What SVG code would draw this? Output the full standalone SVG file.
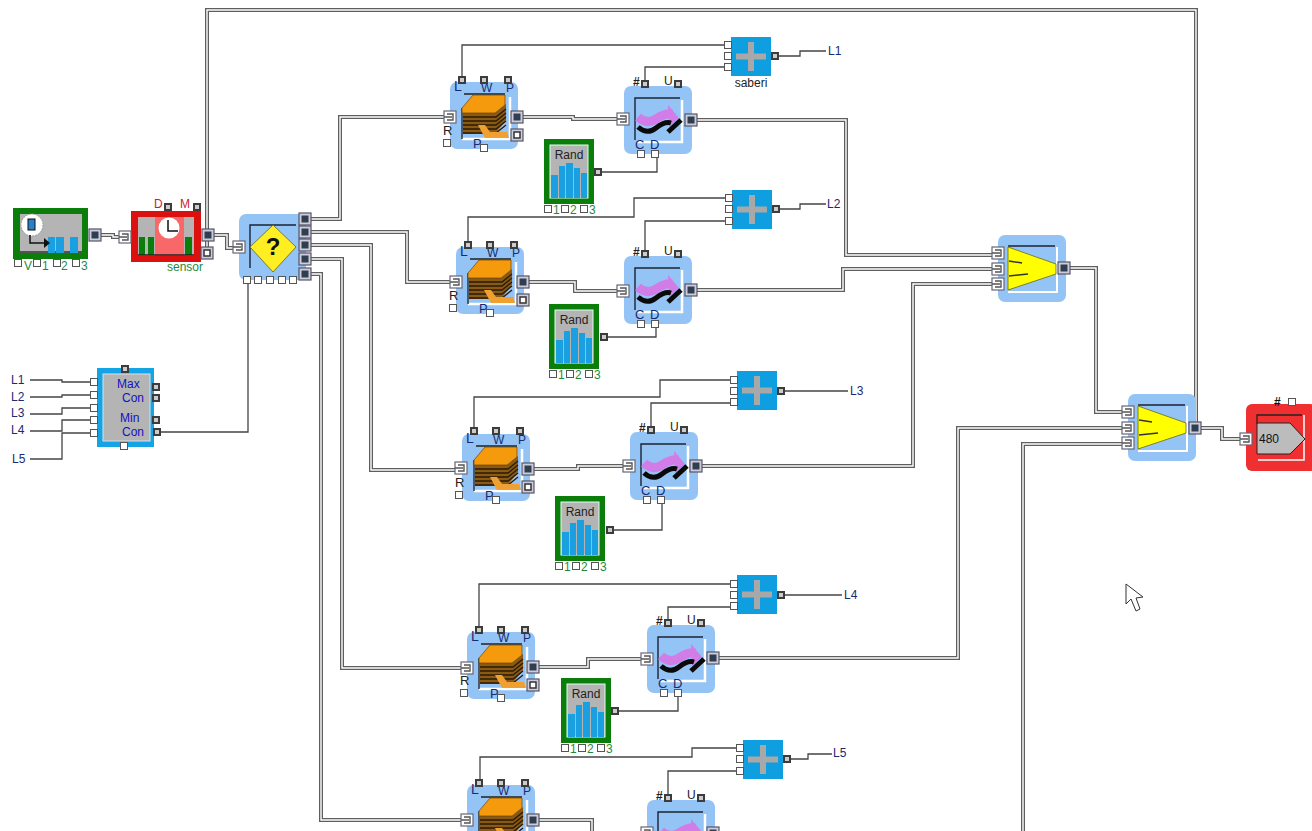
<svg xmlns="http://www.w3.org/2000/svg" width="1312" height="831" viewBox="0 0 1312 831">
<style>
text{font-family:"Liberation Sans",Arial,sans-serif;font-size:12px}
.n{fill:#1a2a70}.b{fill:#1212c0;font-size:12px}.g{fill:#1f8a3a;font-size:12px}.k{fill:#222}.r{fill:#c81e2a;font-size:12px}
.wo{fill:none;stroke:#5e5e5e;stroke-width:4}
.wi{fill:none;stroke:#fff;stroke-width:1.4}
.th{fill:none;stroke:#444;stroke-width:1.3}
</style>
<defs>
<rect id="pd" x="-3" y="-3" width="6" height="6" fill="#ccc" stroke="#3c3c3c" stroke-width="2"/>
<rect id="pw" x="-3.5" y="-3.5" width="7" height="7" fill="#fff" stroke="#555" stroke-width="1"/>
<g id="px"><rect x="-6" y="-6" width="12" height="12" fill="#fff" stroke="#667" stroke-width="1.2"/><path d="M-6 0H2M-3-3H3V3H-3" fill="none" stroke="#555" stroke-width="1.4"/></g>
<g id="py"><rect x="-6" y="-6" width="12" height="12" fill="#ccd" stroke="#556" stroke-width="1.2"/><rect x="-3.5" y="-3.5" width="7" height="7" fill="#2f3f50"/></g>
<g id="pz"><rect x="-6" y="-6" width="12" height="12" fill="#ccd" stroke="#556" stroke-width="1.2"/><rect x="-3" y="-3" width="6" height="6" fill="#fff" stroke="#333" stroke-width="1.5"/></g>
<g id="qs">
<rect width="68" height="67" rx="7" fill="#93c4f5"/>
<path d="M12 57H60V15" fill="none" stroke="#fff" stroke-width="2.5"/>
<path d="M14 12H55M12 26V57" fill="none" stroke="#222" stroke-width="1.3"/>
<path d="M13 31H45L56 22V38L45 52H13Z" fill="#8a5a12"/>
<path d="M13 35H46L56 27M13 39H46L56 31M13 43H46L56 35M13 47H46L56 39M13 51H46L56 43" fill="none" stroke="#2a1a08" stroke-width="1.3"/>
<path d="M12 26L23 13H55V23L45 31H12Z" fill="#f59a0c" stroke="#6a4308" stroke-width=".7"/>
<path d="M28 43H35L40 50H57L59 56H35Z" fill="#f0a030"/>
</g>
<g id="ws">
<rect width="68" height="68" rx="7" fill="#93c4f5"/>
<path d="M13 56H58V14" fill="none" stroke="#fff" stroke-width="2.500"/>
<path d="M56 12H11V54" fill="none" stroke="#1c2233" stroke-width="1.400"/>
<path d="M14 31Q23 39 32 33T48 28" fill="none" stroke="#d27ce8" stroke-width="9"/>
<path d="M44 19L55 32L45 41Z" fill="#d27ce8"/>
<path d="M14 41Q23 49 32 42T47 37M44 46L57 34" fill="none" stroke="#0a0a0a" stroke-width="5"/>
</g>
<g id="rs">
<rect width="50" height="65" fill="#0a7d0a"/>
<rect x="6" y="6" width="38" height="53" fill="#b4b4b4" stroke="#dfe" stroke-width="1"/>
<rect x="7" y="36" width="7" height="23" fill="#1a9fe0"/><rect x="15" y="27" width="6" height="32" fill="#1a9fe0"/><rect x="22" y="24" width="7" height="35" fill="#1a9fe0"/><rect x="30" y="29" width="6" height="30" fill="#1a9fe0"/><rect x="37" y="34" width="6" height="25" fill="#1a9fe0"/>
</g>
<g id="ps">
<rect width="40" height="39" fill="#0f9fe0"/>
<path d="M20 5V34M5 19.500H35" stroke="#a8a8a8" stroke-width="6" fill="none"/>
</g>
<g id="ms">
<rect width="68" height="67" rx="7" fill="#93c4f5"/>
<path d="M10 57H59V12" fill="none" stroke="#fff" stroke-width="2"/>
<path d="M10 11H57" stroke="#1c2233" stroke-width="1.500" fill="none"/>
<path d="M10 12L58 29V39L10 55Z" fill="#ffff00" stroke="#6a6a10" stroke-width=".8"/>
<path d="M11 26L24 28M11 41L30 39" stroke="#333" stroke-width="1.500" fill="none"/>
</g>
</defs>
<rect width="1312" height="831" fill="#fff"/>
<g id="connectors">
<g class="wo"><g id="wires">
<path d="M1196 428V10H207V253"/>
<path d="M95 235H113V237H122"/>
<path d="M207 235H227V248H238"/>
<path d="M305 219H340V117H449"/>
<path d="M305 232H407V282H456"/>
<path d="M305 245H371V470H460"/>
<path d="M305 259H342V668H467"/>
<path d="M305 274H321V820H467"/>
<path d="M517 117H573V119H624"/>
<path d="M523 282H575V291H624"/>
<path d="M528 469H578V466H630"/>
<path d="M533 667H588V659H647"/>
<path d="M533 820H592V831"/>
<path d="M691 120H846V255H998"/>
<path d="M691 290H843V269H998"/>
<path d="M696 466H913V284H998"/>
<path d="M713 658H958V428H1128"/>
<path d="M1023 831V444H1128"/>
<path d="M1064 268H1096V412H1128"/>
<path d="M1195 428H1222V439H1247"/>
</g></g>
<use href="#wires" class="wi"/>
<g class="th">
<path d="M462 80V45H729"/><path d="M645 84V67H729"/><path d="M775 56H800V51H826"/><path d="M598 172H657V155"/>
<path d="M468 245V217H634V198H728"/><path d="M645 254V221H728"/><path d="M775 209H800V204H826"/><path d="M604 337H656V325"/>
<path d="M474 431V397H660V380H733"/><path d="M651 430V403H733"/><path d="M780 391H848"/><path d="M610 530H662V500"/>
<path d="M479 630V584H733"/><path d="M668 623V607H733"/><path d="M780 595H842"/><path d="M615 711H678V693"/>
<path d="M480 783V757H692V748H740"/><path d="M668 798V771H740"/><path d="M786 759H808V754H832"/>
<path d="M30 380H62V382H94"/><path d="M30 397H62V395H94"/><path d="M30 414H62V408H94"/><path d="M30 431H62V420H94"/><path d="M30 459H62V433H94"/>
<path d="M157 432H248V281"/>
</g>
</g>
<g id="generator">
<rect x="13" y="208" width="75" height="51" fill="#0a7d0a"/>
<rect x="20" y="214" width="62" height="39" fill="#b4b4b4"/>
<path d="M20 252H82" stroke="#333" stroke-width="1.500"/>
<rect x="48" y="237" width="7" height="16" fill="#1a9fe0"/><rect x="56" y="237" width="8" height="16" fill="#1a9fe0"/><rect x="70" y="237" width="8" height="16" fill="#1a9fe0"/>
<circle cx="32" cy="225" r="11" fill="#fff" stroke="#999" stroke-dasharray="2 1"/>
<rect x="28" y="219" width="7" height="11" fill="#2a7fc8" stroke="#111"/>
<path d="M30 235V243H45" fill="none" stroke="#111" stroke-width="1.500"/><path d="M44 238L50 243L44 248Z" fill="#111"/>
<use href="#py" x="95" y="235"/>
<use href="#pw" x="18" y="263"/><use href="#pw" x="37" y="263"/><use href="#pw" x="57" y="263"/><use href="#pw" x="76" y="263"/>
<text class="g" x="24" y="270">V</text><text class="g" x="42" y="270">1</text><text class="g" x="61" y="270">2</text><text class="g" x="81" y="270">3</text>
</g>
<g id="sensor">
<rect x="131" y="211" width="70" height="51" fill="#dd1010"/>
<rect x="138" y="217" width="56" height="39" fill="#b4b4b4"/>
<rect x="155" y="217" width="29" height="39" fill="#f86868"/>
<rect x="139" y="237" width="6" height="18" fill="#0a7d0a"/><rect x="148" y="237" width="6" height="18" fill="#0a7d0a"/><rect x="185" y="237" width="7" height="18" fill="#0a7d0a"/>
<path d="M138 255H194" stroke="#222" stroke-width="1.500"/>
<circle cx="169" cy="228" r="10.500" fill="#fff"/><path d="M168 220V231H178" fill="none" stroke="#111" stroke-width="1.500"/>
<use href="#px" x="125" y="237"/><use href="#py" x="208" y="235"/><use href="#pz" x="207" y="253"/>
<use href="#pd" x="168" y="207"/><use href="#pd" x="197" y="207"/>
<text class="r" x="154" y="208">D</text><text class="r" x="180" y="208">M</text>
<text class="g" x="167" y="271">sensor</text>
</g>
<g id="decision">
<rect x="239" y="214" width="67" height="66" rx="7" fill="#93c4f5"/>
<path d="M250 268V225H296" fill="none" stroke="#1c2233" stroke-width="1.400"/>
<path d="M273 225L296 247L273 272L250 247Z" fill="#ffee22" stroke="#666620" stroke-width=".8"/>
<text x="273" y="255" text-anchor="middle" style="font-size:24px;font-weight:bold" fill="#111">?</text>
<use href="#px" x="239" y="247"/>
<use href="#py" x="305" y="219"/><use href="#py" x="305" y="232"/><use href="#py" x="305" y="245"/><use href="#py" x="305" y="259"/><use href="#py" x="305" y="274"/>
<use href="#pw" x="247" y="280"/><use href="#pw" x="258" y="280"/><use href="#pw" x="270" y="280"/><use href="#pw" x="282" y="280"/><use href="#pw" x="293" y="280"/>
</g>
<g id="maxmin">
<rect x="97" y="368" width="57" height="79" fill="#12a4e4"/>
<rect x="103" y="374" width="47" height="67" fill="#b4b4b4" stroke="#dde" stroke-width="1"/>
<text class="b" x="117" y="388">Max</text><text class="b" x="122" y="402">Con</text><text class="b" x="120" y="422">Min</text><text class="b" x="122" y="436">Con</text>
<use href="#pw" x="94" y="382"/><use href="#pw" x="94" y="395"/><use href="#pw" x="94" y="408"/><use href="#pw" x="94" y="420"/><use href="#pw" x="94" y="433"/>
<use href="#pd" x="156" y="387"/><use href="#pd" x="156" y="398"/><use href="#pd" x="156" y="420"/><use href="#pd" x="157" y="432"/>
<use href="#pd" x="125" y="369"/><use href="#pw" x="124" y="446"/>
</g>
<g id="inputs">
<text class="n" x="11" y="384">L1</text><text class="n" x="11" y="401">L2</text><text class="n" x="11" y="417">L3</text><text class="n" x="11" y="434">L4</text><text class="n" x="12" y="463">L5</text>
</g>
<g id="queue1" transform="translate(450 82)"><use href="#qs"/><text class="n" x="4" y="9" style="font-size:14px">L</text><text class="n" x="31" y="10">W</text><text class="n" x="56" y="10">P</text><text class="k" x="-7" y="53" style="font-size:13px">R</text><text class="n" x="23" y="66" style="font-size:13px">P</text><use href="#pd" x="12" y="-2"/><use href="#pd" x="34" y="-2"/><use href="#pd" x="58" y="-2"/><use href="#px" x="0" y="35"/><use href="#py" x="67" y="35"/><use href="#pz" x="67" y="53"/><use href="#pw" x="-3" y="61"/><use href="#pw" x="34" y="66"/></g>
<g id="queue2" transform="translate(456 247)"><use href="#qs"/><text class="n" x="4" y="9" style="font-size:14px">L</text><text class="n" x="31" y="10">W</text><text class="n" x="56" y="10">P</text><text class="k" x="-7" y="53" style="font-size:13px">R</text><text class="n" x="23" y="66" style="font-size:13px">P</text><use href="#pd" x="12" y="-2"/><use href="#pd" x="34" y="-2"/><use href="#pd" x="58" y="-2"/><use href="#px" x="0" y="35"/><use href="#py" x="67" y="35"/><use href="#pz" x="67" y="53"/><use href="#pw" x="-3" y="61"/><use href="#pw" x="34" y="66"/></g>
<g id="queue3" transform="translate(462 434)"><use href="#qs"/><text class="n" x="4" y="9" style="font-size:14px">L</text><text class="n" x="31" y="10">W</text><text class="n" x="56" y="10">P</text><text class="k" x="-7" y="53" style="font-size:13px">R</text><text class="n" x="23" y="66" style="font-size:13px">P</text><use href="#pd" x="12" y="-3"/><use href="#pd" x="34" y="-3"/><use href="#pd" x="58" y="-3"/><use href="#px" x="-1" y="34"/><use href="#py" x="66" y="35"/><use href="#pz" x="66" y="53"/><use href="#pw" x="-3" y="61"/><use href="#pw" x="34" y="66"/></g>
<g id="queue4" transform="translate(467 632)"><use href="#qs"/><text class="n" x="4" y="9" style="font-size:14px">L</text><text class="n" x="31" y="10">W</text><text class="n" x="56" y="10">P</text><text class="k" x="-7" y="53" style="font-size:13px">R</text><text class="n" x="23" y="66" style="font-size:13px">P</text><use href="#pd" x="12" y="-2"/><use href="#pd" x="34" y="-2"/><use href="#pd" x="58" y="-2"/><use href="#px" x="0" y="36"/><use href="#py" x="66" y="35"/><use href="#pz" x="66" y="53"/><use href="#pw" x="-3" y="61"/><use href="#pw" x="34" y="66"/></g>
<g id="queue5" transform="translate(467 785)"><use href="#qs"/><text class="n" x="4" y="9" style="font-size:14px">L</text><text class="n" x="31" y="10">W</text><text class="n" x="56" y="10">P</text><use href="#pd" x="12" y="-2"/><use href="#pd" x="34" y="-2"/><use href="#pd" x="58" y="-2"/><use href="#px" x="0" y="35"/><use href="#py" x="66" y="35"/></g>
<g id="wave1" transform="translate(624 86)"><use href="#ws"/><text class="k" x="9" y="0" style="font-weight:bold">#</text><text class="k" x="40" y="-1">U</text><text class="n" x="11" y="63" style="font-size:13px">C</text><text class="n" x="26" y="63" style="font-size:13px">D</text><use href="#pd" x="21" y="-2"/><use href="#pd" x="54" y="-2"/><use href="#px" x="-1" y="33"/><use href="#py" x="67" y="34"/><use href="#pw" x="17" y="68"/><use href="#pw" x="31" y="68"/></g>
<g id="wave2" transform="translate(624 256)"><use href="#ws"/><text class="k" x="9" y="0" style="font-weight:bold">#</text><text class="k" x="40" y="-1">U</text><text class="n" x="11" y="63" style="font-size:13px">C</text><text class="n" x="26" y="63" style="font-size:13px">D</text><use href="#pd" x="21" y="-2"/><use href="#pd" x="54" y="-2"/><use href="#px" x="-1" y="35"/><use href="#py" x="67" y="34"/><use href="#pw" x="17" y="68"/><use href="#pw" x="31" y="68"/></g>
<g id="wave3" transform="translate(630 432)"><use href="#ws"/><text class="k" x="9" y="0" style="font-weight:bold">#</text><text class="k" x="40" y="-1">U</text><text class="n" x="11" y="63" style="font-size:13px">C</text><text class="n" x="26" y="63" style="font-size:13px">D</text><use href="#pd" x="21" y="-2"/><use href="#pd" x="54" y="-2"/><use href="#px" x="-1" y="34"/><use href="#py" x="66" y="34"/><use href="#pw" x="17" y="68"/><use href="#pw" x="31" y="68"/></g>
<g id="wave4" transform="translate(647 625)"><use href="#ws"/><text class="k" x="9" y="0" style="font-weight:bold">#</text><text class="k" x="40" y="-1">U</text><text class="n" x="11" y="63" style="font-size:13px">C</text><text class="n" x="26" y="63" style="font-size:13px">D</text><use href="#pd" x="21" y="-2"/><use href="#pd" x="54" y="-2"/><use href="#px" x="0" y="34"/><use href="#py" x="66" y="33"/><use href="#pw" x="17" y="68"/><use href="#pw" x="31" y="68"/></g>
<g id="wave5" transform="translate(647 800)"><use href="#ws"/><text class="k" x="9" y="0" style="font-weight:bold">#</text><text class="k" x="40" y="-1">U</text><use href="#pd" x="21" y="-2"/><use href="#pd" x="54" y="-2"/><use href="#px" x="0" y="33"/><use href="#py" x="66" y="33"/></g>
<g id="rand1" transform="translate(544 139)"><use href="#rs"/><text x="25" y="20" text-anchor="middle" fill="#222">Rand</text><use href="#pd" x="54" y="33"/><use href="#pw" x="4" y="70"/><use href="#pw" x="21" y="70"/><use href="#pw" x="40" y="70"/><text class="g" x="9" y="75">1</text><text class="g" x="26" y="75">2</text><text class="g" x="45" y="75">3</text></g>
<g id="rand2" transform="translate(549 304)"><use href="#rs"/><text x="25" y="20" text-anchor="middle" fill="#222">Rand</text><use href="#pd" x="55" y="33"/><use href="#pw" x="4" y="70"/><use href="#pw" x="21" y="70"/><use href="#pw" x="40" y="70"/><text class="g" x="9" y="75">1</text><text class="g" x="26" y="75">2</text><text class="g" x="45" y="75">3</text></g>
<g id="rand3" transform="translate(555 496)"><use href="#rs"/><text x="25" y="20" text-anchor="middle" fill="#222">Rand</text><use href="#pd" x="55" y="34"/><use href="#pw" x="4" y="70"/><use href="#pw" x="21" y="70"/><use href="#pw" x="40" y="70"/><text class="g" x="9" y="75">1</text><text class="g" x="26" y="75">2</text><text class="g" x="45" y="75">3</text></g>
<g id="rand4" transform="translate(561 678)"><use href="#rs"/><text x="25" y="20" text-anchor="middle" fill="#222">Rand</text><use href="#pd" x="54" y="33"/><use href="#pw" x="4" y="70"/><use href="#pw" x="21" y="70"/><use href="#pw" x="40" y="70"/><text class="g" x="9" y="75">1</text><text class="g" x="26" y="75">2</text><text class="g" x="45" y="75">3</text></g>
<g id="sum1" transform="translate(731 37)"><use href="#ps"/><use href="#pw" x="-3" y="8"/><use href="#pw" x="-3" y="19"/><use href="#pw" x="-3" y="30"/><use href="#pd" x="44" y="19"/><text x="20" y="50" text-anchor="middle" fill="#222">saberi</text></g>
<g id="sum2" transform="translate(732 190)"><use href="#ps"/><use href="#pw" x="-3" y="8"/><use href="#pw" x="-3" y="19"/><use href="#pw" x="-3" y="31"/><use href="#pd" x="44" y="19"/></g>
<g id="sum3" transform="translate(737 371)"><use href="#ps"/><use href="#pw" x="-3" y="9"/><use href="#pw" x="-3" y="20"/><use href="#pw" x="-3" y="31"/><use href="#pd" x="44" y="20"/></g>
<g id="sum4" transform="translate(737 575)"><use href="#ps"/><use href="#pw" x="-3" y="9"/><use href="#pw" x="-3" y="20"/><use href="#pw" x="-3" y="31"/><use href="#pd" x="44" y="20"/></g>
<g id="sum5" transform="translate(743 740)"><use href="#ps"/><use href="#pw" x="-3" y="8"/><use href="#pw" x="-3" y="19"/><use href="#pw" x="-3" y="31"/><use href="#pd" x="44" y="19"/></g>
<g id="outputs">
<text class="n" x="828" y="55">L1</text><text class="n" x="827" y="208">L2</text><text class="n" x="850" y="395">L3</text><text class="n" x="844" y="599">L4</text><text class="n" x="833" y="757">L5</text>
</g>
<g id="merge1" transform="translate(998 235)"><use href="#ms"/><use href="#px" x="0" y="18"/><use href="#px" x="0" y="34"/><use href="#px" x="0" y="49"/><use href="#py" x="66" y="33"/></g>
<g id="merge2" transform="translate(1128 394)"><use href="#ms"/><use href="#px" x="0" y="18"/><use href="#px" x="0" y="34"/><use href="#px" x="0" y="49"/><use href="#py" x="67" y="34"/></g>
<g id="exit">
<rect x="1246" y="404" width="70" height="67" rx="6" fill="#f03030"/>
<path d="M1258 460H1304V415" fill="none" stroke="#fff" stroke-width="1.500"/>
<path d="M1257 424V415H1302" fill="none" stroke="#222" stroke-width="1.300"/>
<path d="M1257 423H1290L1305 439L1290 454H1257Z" fill="#bcbcbc" stroke="#222" stroke-width="1"/>
<text x="1259" y="443" fill="#111">480</text>
<text x="1274" y="406" fill="#111" style="font-weight:bold">#</text>
<use href="#pw" x="1292" y="402"/>
<use href="#px" x="1246" y="439"/>
</g>
<path id="cursor" d="M1126 584V604L1131 599L1136 611L1140 609L1136 598L1143 597Z" fill="#fff" stroke="#333" stroke-width="1"/>
</svg>
